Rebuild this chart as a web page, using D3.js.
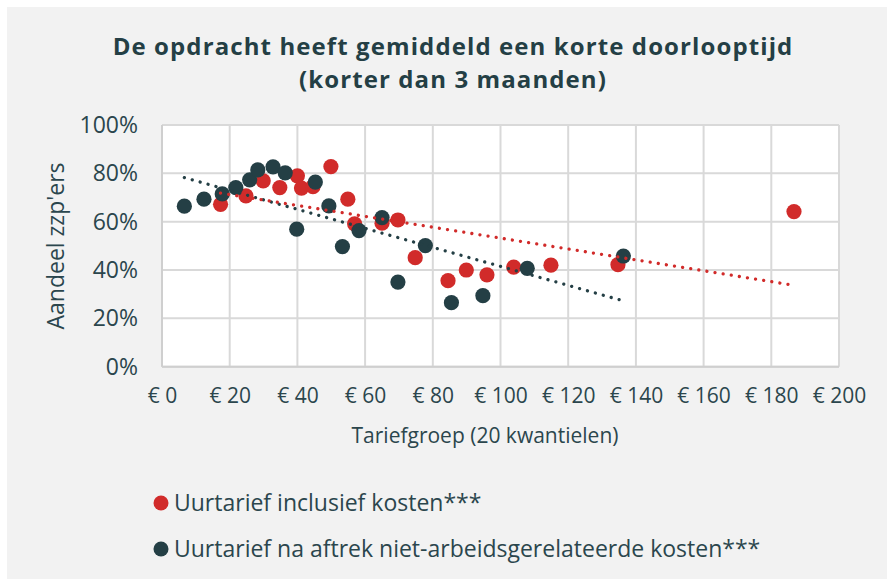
<!DOCTYPE html>
<html><head><meta charset="utf-8">
<script src="https://cdn.jsdelivr.net/npm/d3@7"></script>
<style>html,body{margin:0;padding:0;background:#fff;}svg{display:block;}</style>
</head><body>
<script>
const titleLines = ["De opdracht heeft gemiddeld een korte doorlooptijd", "(korter dan 3 maanden)"];
const xTicks = [0, 20, 40, 60, 80, 100, 120, 140, 160, 180, 200];
const yTicks = [0, 0.2, 0.4, 0.6, 0.8, 1.0];
const seriesNames = ["Uurtarief inclusief kosten***", "Uurtarief na aftrek niet-arbeidsgerelateerde kosten***"];
const redX = [17.3, 24.8, 29.9, 34.8, 40.0, 41.2, 44.6, 49.9, 54.9, 56.9, 65.0, 69.7, 74.8, 84.5, 89.9, 96.0, 103.9, 114.9, 134.7, 186.7];
const redY = [0.672, 0.707, 0.769, 0.741, 0.790, 0.739, 0.745, 0.828, 0.693, 0.591, 0.594, 0.607, 0.451, 0.356, 0.400, 0.380, 0.412, 0.420, 0.422, 0.642];
const darkX = [6.6, 12.4, 17.8, 21.8, 25.9, 28.3, 32.8, 36.4, 39.8, 45.3, 49.3, 53.3, 58.2, 65.0, 69.7, 77.8, 85.5, 94.8, 107.9, 136.3];
const darkY = [0.664, 0.693, 0.715, 0.741, 0.773, 0.814, 0.827, 0.802, 0.569, 0.764, 0.665, 0.497, 0.563, 0.617, 0.350, 0.501, 0.265, 0.294, 0.407, 0.458];

const W = 887, H = 579;
const RED = "#d12b2a", DARK = "#243f45", TXT = "#2b464d";
const FONT = "'Open Sans', Lato, sans-serif";

const svg = d3.select("body").append("svg").attr("width", W).attr("height", H);
svg.append("rect").attr("x", 0).attr("y", 0).attr("width", W).attr("height", H).attr("fill", "#ffffff");
svg.append("rect").attr("x", 7).attr("y", 7).attr("width", W - 7).attr("height", H - 7).attr("fill", "#f2f2f2");

const x = d3.scaleLinear().domain([0, 200]).range([162, 839]);
const y = d3.scaleLinear().domain([0, 1]).range([366.7, 125]);

// title
svg.append("g").selectAll("text").data(titleLines).join("text")
  .attr("x", 453).attr("y", (d, i) => 55 + i * 33).attr("text-anchor", "middle")
  .attr("font-family", FONT).attr("font-weight", "bold").attr("font-size", 24)
  .attr("letter-spacing", 1.1).attr("fill", DARK).text(d => d);

// plot area
svg.append("rect").attr("x", x(0)).attr("y", y(1)).attr("width", x(200) - x(0)).attr("height", y(0) - y(1)).attr("fill", "#ffffff");
const grid = svg.append("g").attr("stroke", "#d9d9d9").attr("stroke-width", 2);
grid.selectAll(".vx").data(xTicks).join("line").attr("x1", d => x(d)).attr("x2", d => x(d)).attr("y1", y(0)).attr("y2", y(1));
grid.selectAll(".hy").data(yTicks).join("line").attr("x1", x(0)).attr("x2", x(200)).attr("y1", d => y(d)).attr("y2", d => y(d));
svg.append("line").attr("x1", x(0)).attr("x2", x(0)).attr("y1", y(0)).attr("y2", y(1)).attr("stroke", "#cfcfcf").attr("stroke-width", 2);
svg.append("line").attr("x1", x(0)).attr("x2", x(200)).attr("y1", y(0)).attr("y2", y(0)).attr("stroke", "#cfcfcf").attr("stroke-width", 2);

// axes (labels only)
const xAxis = d3.axisBottom(x).tickValues(xTicks).tickSize(0).tickPadding(0).tickFormat(d => "€ " + d);
const gx = svg.append("g").attr("transform", `translate(0,${y(0) + 21})`).call(xAxis);
gx.select(".domain").remove();
gx.selectAll("text").attr("font-family", FONT).attr("font-size", 21).attr("fill", TXT).attr("dy", "0.71em");

const yAxis = d3.axisLeft(y).tickValues(yTicks).tickSize(0).tickPadding(0).tickFormat(d3.format(".0%"));
const gy = svg.append("g").attr("transform", `translate(138,0)`).call(yAxis);
gy.select(".domain").remove();
gy.selectAll("text").attr("font-family", FONT).attr("font-size", 23).attr("fill", TXT);

svg.append("text").attr("x", 485).attr("y", 443).attr("text-anchor", "middle")
  .attr("font-family", FONT).attr("font-size", 21).attr("fill", TXT).text("Tariefgroep (20 kwantielen)");
svg.append("text").attr("transform", "translate(64,246) rotate(-90)").attr("text-anchor", "middle")
  .attr("font-family", FONT).attr("font-size", 23).attr("fill", TXT).text("Aandeel zzp'ers");

// points
const redPts = redX.map((v, i) => [v, redY[i]]);
const darkPts = darkX.map((v, i) => [v, darkY[i]]);
svg.append("g").selectAll("circle").data(redPts).join("circle")
  .attr("cx", d => x(d[0])).attr("cy", d => y(d[1])).attr("r", 7.6).attr("fill", RED);
svg.append("g").selectAll("circle").data(darkPts).join("circle")
  .attr("cx", d => x(d[0])).attr("cy", d => y(d[1])).attr("r", 7.6).attr("fill", DARK);

// linear trendlines
function fit(pts) {
  const mx = d3.mean(pts, d => d[0]), my = d3.mean(pts, d => d[1]);
  const b = d3.sum(pts, d => (d[0] - mx) * (d[1] - my)) / d3.sum(pts, d => (d[0] - mx) ** 2);
  const a = my - b * mx;
  const [x0, x1] = d3.extent(pts, d => d[0]);
  return [[x0, a + b * x0], [x1, a + b * x1]];
}
const line = d3.line().x(d => x(d[0])).y(d => y(d[1]));
[[darkPts, DARK], [redPts, RED]].forEach(([pts, c]) => {
  svg.append("path").attr("d", line(fit(pts))).attr("fill", "none").attr("stroke", c)
    .attr("stroke-width", 3.3).attr("stroke-linecap", "round").attr("stroke-dasharray", "0.01 8.2");
});

// legend
const leg = svg.append("g").selectAll("g").data(seriesNames).join("g")
  .attr("transform", (d, i) => `translate(161,${503 + i * 46})`);
leg.append("circle").attr("r", 7.5).attr("fill", (d, i) => i === 0 ? RED : DARK);
leg.append("text").attr("x", 13).attr("y", 0).attr("dy", "0.35em")
  .attr("font-family", FONT).attr("font-size", 23).attr("fill", TXT).text(d => d);
</script>
</body></html>
